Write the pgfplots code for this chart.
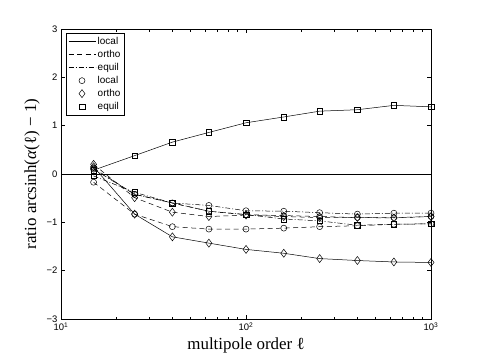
\documentclass[border=0pt]{standalone}
\usepackage{fontspec}
\setmainfont{Liberation Sans}
\newfontfamily\labfont{Liberation Serif}
\usepackage{pgfplots}
\pgfplotsset{compat=1.18}
\tikzset{
  mdash/.style={dash pattern=on 5bp off 3.5bp},
  mdashdot/.style={dash pattern=on 5bp off 2bp on 1bp off 2bp},
}
\begin{document}
\begin{tikzpicture}[x=1bp,y=1bp]
\useasboundingbox (0,0) rectangle (477,361);
\begin{axis}[
  at={(61bp,42bp)}, anchor=south west,
  width=370bp, height=290bp, scale only axis,
  xmode=log, xmin=10, xmax=1000, ymin=-3, ymax=3,
  xtick={10,100,1000},
  xticklabels={10\textsuperscript{1},10\textsuperscript{2},10\textsuperscript{3}},
  ytick={-3,-2,-1,0,1,2,3},
  yticklabels={−3,−2,−1,0,1,2,3},
  tick align=inside, major tick length=4bp, minor tick length=2.5bp,
  tick style={black, line width=0.5bp},
  axis line style={line width=0.6bp},
  ticklabel style={font=\fontsize{9.5}{11}\selectfont},
  xlabel={multipole order ℓ},
  ylabel={ratio arcsinh(\textit{α}(ℓ) − 1)},
  label style={font=\labfont\fontsize{17}{20}\selectfont},
  every axis plot/.append style={black, line width=0.5bp, mark options={solid}},
  legend style={at={(rel axis cs:0.0135,0.986)}, anchor=north west,
    draw=black, line width=0.5bp, font=\fontsize{10}{12}\selectfont,
    row sep=0.3bp, inner sep=2bp, cells={anchor=west}},
]
% zero line
\addplot[forget plot] coordinates {(10,0) (1000,0)};
% solid + square
\addplot[forget plot, mark=square, mark size=2.8bp] coordinates {
(15,0.08) (25,0.38) (40,0.66) (63,0.86) (100,1.06) (160,1.18) (250,1.30) (400,1.33) (630,1.42) (1000,1.39)};
% solid + diamond
\addplot[forget plot, mark=diamond, mark size=4bp] coordinates {
(15,0.15) (25,-0.83) (40,-1.30) (63,-1.43) (100,-1.56) (160,-1.64) (250,-1.75) (400,-1.79) (630,-1.82) (1000,-1.83)};
% dashed + circle (lower)
\addplot[forget plot, mdash, mark=o, mark size=3bp] coordinates {
(15,-0.17) (25,-0.83) (40,-1.09) (63,-1.14) (100,-1.14) (160,-1.12) (250,-1.09) (400,-1.07) (630,-1.04) (1000,-1.03)};
% dash-dot + circle (top)
\addplot[forget plot, mdashdot, mark=o, mark size=3bp] coordinates {
(15,0.10) (25,-0.42) (40,-0.60) (63,-0.65) (100,-0.76) (160,-0.77) (250,-0.80) (400,-0.83) (630,-0.81) (1000,-0.81)};
% dashed + circle (second)
\addplot[forget plot, mdash, mark=o, mark size=3bp] coordinates {
(15,0.12) (25,-0.42) (40,-0.60) (63,-0.77) (100,-0.84) (160,-0.86) (250,-0.88) (400,-0.90) (630,-0.90) (1000,-0.88)};
% dashed + diamond
\addplot[forget plot, mdash, mark=diamond, mark size=4bp] coordinates {
(15,0.20) (25,-0.49) (40,-0.79) (63,-0.88) (100,-0.85) (160,-0.88) (250,-0.90) (400,-0.90) (630,-0.91) (1000,-0.88)};
% dash-dot + square
\addplot[forget plot, mdashdot, mark=square, mark size=2.8bp] coordinates {
(15,-0.04) (25,-0.38) (40,-0.60) (63,-0.77) (100,-0.84) (160,-0.93) (250,-0.97) (400,-1.06) (630,-1.04) (1000,-1.03)};
% legend
\addlegendimage{legend image code/.code={\draw[black,line width=0.5bp] (0bp,0bp) -- (27bp,0bp);}}
\addlegendentry{local}
\addlegendimage{legend image code/.code={\draw[black,line width=0.5bp,mdash] (0bp,0bp) -- (27bp,0bp);}}
\addlegendentry{ortho}
\addlegendimage{legend image code/.code={\draw[black,line width=0.5bp,mdashdot] (0bp,0bp) -- (27bp,0bp);}}
\addlegendentry{equil}
\addlegendimage{legend image code/.code={\draw[black,line width=0.5bp] plot[mark=o,mark size=3bp] coordinates {(13.5bp,0bp)};}}
\addlegendentry{local}
\addlegendimage{legend image code/.code={\draw[black,line width=0.5bp] plot[mark=diamond,mark size=4bp] coordinates {(13.5bp,0bp)};}}
\addlegendentry{ortho}
\addlegendimage{legend image code/.code={\draw[black,line width=0.5bp] plot[mark=square,mark size=2.8bp] coordinates {(13.5bp,0bp)};}}
\addlegendentry{equil}
\end{axis}
\end{tikzpicture}
\end{document}
